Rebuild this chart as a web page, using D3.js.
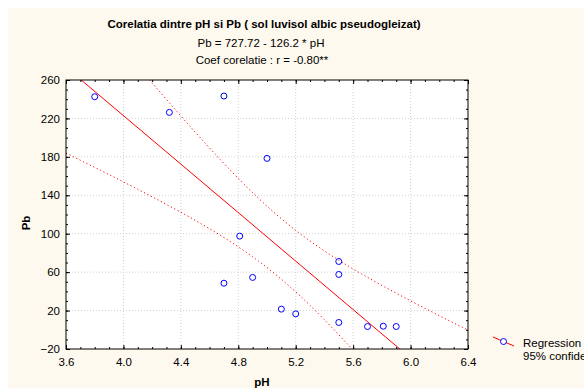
<!DOCTYPE html>
<html>
<head>
<meta charset="utf-8">
<script src="https://cdn.jsdelivr.net/npm/d3@7"></script>
<style>
  body { margin: 0; background: #fff; }
  svg { display: block; font-family: "Liberation Sans", Arial, sans-serif; }
</style>
</head>
<body>
<svg id="chart" width="584" height="388"></svg>
<script>
var pH = [3.8, 4.32, 4.7, 5.0, 4.81, 4.7, 4.9, 5.5, 5.5, 5.1, 5.2, 5.5, 5.7, 5.81, 5.9]
var pb = [242.6, 226.3, 243.3, 178.4, 97.5, 48.5, 54.5, 71.1, 57.6, 21.5, 16.6, 7.6, 3.4, 3.7, 3.4]

// regression as printed in the title
var intercept = 727.72
var slope = -126.2
var tCrit = 2.160 // t(0.975, n-2)

var xTicks = [3.6, 4.0, 4.4, 4.8, 5.2, 5.6, 6.0, 6.4]
var yTicks = [-20, 20, 60, 100, 140, 180, 220, 260]

var titleLines = [
  'Corelatia dintre pH si Pb ( sol luvisol albic pseudogleizat)',
  'Pb = 727.72 - 126.2 * pH',
  'Coef corelatie : r = -0.80**'
]
var legendLabels = ['Regression', '95% confidence']

var fs = 11.5
var svg = d3.select('#chart')
var margin = {top: 80, left: 66, right: 116, bottom: 39}
var width = 584 - margin.left - margin.right
var height = 388 - margin.top - margin.bottom

// cream panel
svg.append('rect')
  .attr('x', 8).attr('y', 8)
  .attr('width', 576).attr('height', 380)
  .attr('fill', '#fef9ee')

var x = d3.scaleLinear().domain([3.6, 6.4]).range([0, width])
var y = d3.scaleLinear().domain([-20, 260]).range([height, 0])

var g = svg.append('g')
  .attr('transform', 'translate(' + margin.left + ',' + margin.top + ')')

g.append('rect')
  .attr('width', width).attr('height', height)
  .attr('fill', '#fff')

g.append('clipPath').attr('id', 'clip')
  .append('rect').attr('width', width).attr('height', height)

// grid
g.append('g')
  .selectAll('line').data(xTicks.slice(1, -1))
  .join('line')
  .attr('x1', (d) => x(d)).attr('x2', (d) => x(d))
  .attr('y1', 0).attr('y2', height)
  .attr('stroke', '#d0d0d0').attr('stroke-dasharray', '1,2')
g.append('g')
  .selectAll('line').data(yTicks.slice(1, -1))
  .join('line')
  .attr('y1', (d) => y(d)).attr('y2', (d) => y(d))
  .attr('x1', 0).attr('x2', width)
  .attr('stroke', '#d0d0d0').attr('stroke-dasharray', '1,2')

// confidence band from the data
var n = pH.length
var xbar = d3.mean(pH)
var sxx = d3.sum(pH, (v) => (v - xbar) * (v - xbar))
var sse = d3.sum(pH, (v, i) => Math.pow(pb[i] - (intercept + slope * v), 2))
var s = Math.sqrt(sse / (n - 2))
var grid = d3.range(3.6, 6.401, 0.02)
var band = grid.map(function (v) {
  var fit = intercept + slope * v
  var half = tCrit * s * Math.sqrt(1 / n + (v - xbar) * (v - xbar) / sxx)
  return {x: v, lo: fit - half, hi: fit + half}
})

var plot = g.append('g').attr('clip-path', 'url(#clip)')

var lineHi = d3.line().x((d) => x(d.x)).y((d) => y(d.hi))
var lineLo = d3.line().x((d) => x(d.x)).y((d) => y(d.lo))
plot.append('path').datum(band)
  .attr('fill', 'none').attr('stroke', '#f00')
  .attr('stroke-dasharray', '1.2,2.6')
  .attr('d', lineHi)
plot.append('path').datum(band)
  .attr('fill', 'none').attr('stroke', '#f00')
  .attr('stroke-dasharray', '1.2,2.6')
  .attr('d', lineLo)

plot.append('line')
  .attr('x1', x(3.6)).attr('y1', y(intercept + slope * 3.6))
  .attr('x2', x(6.4)).attr('y2', y(intercept + slope * 6.4))
  .attr('stroke', '#f00').attr('stroke-width', 1)

// points
g.append('g')
  .selectAll('circle').data(pH)
  .join('circle')
  .attr('cx', (d) => x(d))
  .attr('cy', (d, i) => y(pb[i]))
  .attr('r', 3)
  .attr('fill', 'none')
  .attr('stroke', '#00f')

// frame
g.append('rect')
  .attr('width', width).attr('height', height)
  .attr('fill', 'none').attr('stroke', '#000')

// inward ticks on all four sides
var xMinor = d3.range(36, 65).map((v) => v / 10)
var yMinor = d3.range(-20, 261, 10)
function ticks (axis, vals, size, tr) {
  g.append('g')
    .attr('transform', tr)
    .call(axis.tickValues(vals).tickSize(size).tickFormat(''))
    .call((sel) => sel.select('.domain').remove())
}
ticks(d3.axisBottom(x), xMinor, -2, 'translate(0,' + height + ')')
ticks(d3.axisBottom(x), xTicks, -4, 'translate(0,' + height + ')')
ticks(d3.axisTop(x), xMinor, -2, '')
ticks(d3.axisTop(x), xTicks, -4, '')
ticks(d3.axisLeft(y), yMinor, -2, '')
ticks(d3.axisLeft(y), yTicks, -4, '')
ticks(d3.axisRight(y), yMinor, -2, 'translate(' + width + ',0)')
ticks(d3.axisRight(y), yTicks, -4, 'translate(' + width + ',0)')

// tick labels
g.append('g')
  .attr('transform', 'translate(0,' + height + ')')
  .call(d3.axisBottom(x).tickValues(xTicks).tickSize(0).tickPadding(9).tickFormat(d3.format('.1f')))
  .call((sel) => sel.select('.domain').remove())
  .selectAll('text').attr('font-size', fs).attr('font-family', null).attr('fill', '#000')
g.append('g')
  .call(d3.axisLeft(y).tickValues(yTicks).tickSize(0).tickPadding(6))
  .call((sel) => sel.select('.domain').remove())
  .selectAll('text').attr('font-size', fs).attr('font-family', null).attr('fill', '#000')

// axis titles
svg.append('text')
  .attr('x', 262).attr('y', 386)
  .attr('text-anchor', 'middle')
  .attr('font-size', fs).attr('font-weight', 'bold')
  .text('pH')
svg.append('text')
  .attr('transform', 'translate(30,223) rotate(-90)')
  .attr('text-anchor', 'middle')
  .attr('font-size', fs).attr('font-weight', 'bold')
  .text('Pb')

// title block
var titleY = [28, 47, 64]
var titleX = [264, 261, 262]
titleLines.forEach(function (t, i) {
  svg.append('text')
    .attr('x', titleX[i]).attr('y', titleY[i])
    .attr('text-anchor', 'middle')
    .attr('font-size', fs)
    .attr('font-weight', i === 0 ? 'bold' : 'normal')
    .text(t)
})

// legend
var leg = svg.append('g')
leg.append('line')
  .attr('x1', 493).attr('y1', 337).attr('x2', 514).attr('y2', 346)
  .attr('stroke', '#f00')
leg.append('circle')
  .attr('cx', 503.5).attr('cy', 341.5).attr('r', 3)
  .attr('fill', '#fff').attr('stroke', '#00f')
leg.selectAll('text').data(legendLabels)
  .join('text')
  .attr('x', 523)
  .attr('y', (d, i) => 347 + i * 12.5)
  .attr('font-size', fs)
  .text((d) => d)
</script>
</body>
</html>
